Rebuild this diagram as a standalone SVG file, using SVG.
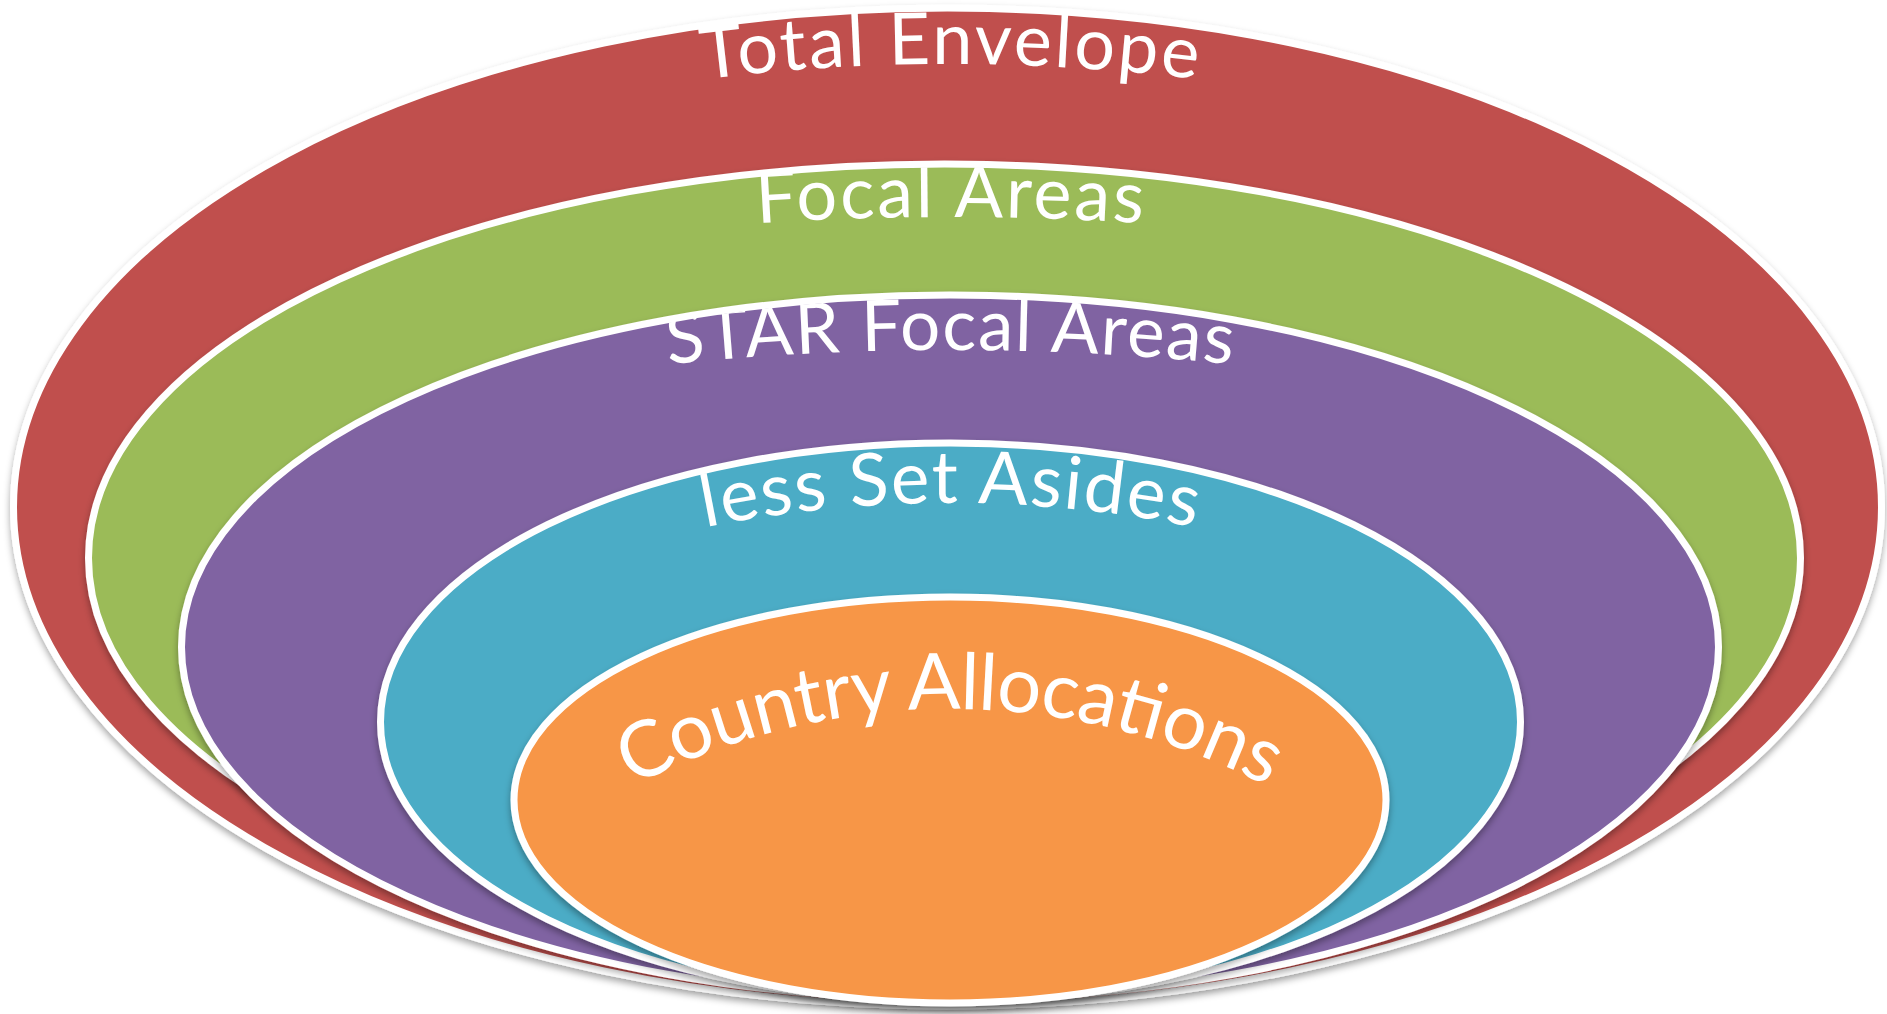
<svg xmlns="http://www.w3.org/2000/svg" width="1887" height="1014" viewBox="0 0 1887 1014">
  <style>
    .ring { stroke: #ffffff; stroke-width: 7; filter: url(#shadow); }
    .label { fill: #ffffff; font-family: "Lato", "Open Sans", "Liberation Sans", sans-serif; font-weight: 400; }
  </style>
  <defs>
    <filter id="shadow" x="-5%" y="-5%" width="110%" height="115%">
      <feDropShadow dx="0" dy="4" stdDeviation="3.5" flood-color="#000000" flood-opacity="0.35"/>
    </filter>
    <clipPath id="clip-green"><ellipse cx="944.5" cy="558" rx="853" ry="391"/></clipPath>
    <clipPath id="clip-purple"><ellipse cx="950" cy="647" rx="765" ry="349"/></clipPath>
    <clipPath id="clip-teal"><ellipse cx="950.5" cy="722" rx="567" ry="276"/></clipPath>
    <clipPath id="clip-orange"><ellipse cx="950" cy="800" rx="433" ry="200"/></clipPath>
    <path id="arc-total" d="M450,127.5 A2000,2000 0 0 1 1450,127.5"/>
    <path id="arc-focal" d="M450,259 A3000,3000 0 0 1 1450,259"/>
    <path id="arc-star" d="M450,395 A2800,2800 0 0 1 1450,395"/>
    <path id="arc-less" d="M450,607.4 A1250,1250 0 0 1 1450,607.4"/>
    <path id="arc-country" d="M400,982.3 A690,690 0 0 1 1500,982.3"/>
  </defs>

  <g id="total-envelope">
    <ellipse class="ring" cx="947.5" cy="507" rx="934" ry="499" fill="#C0504D"/>
    <text class="label" font-size="72"><textPath href="#arc-total" startOffset="50%" text-anchor="middle" textLength="495" lengthAdjust="spacing">Total Envelope</textPath></text>
  </g>

  <g id="focal-areas">
    <ellipse class="ring" cx="944.5" cy="558" rx="856" ry="394" fill="#9BBB59"/>
    <text class="label" font-size="72" clip-path="url(#clip-green)"><textPath href="#arc-focal" startOffset="50%" text-anchor="middle" textLength="386" lengthAdjust="spacing">Focal Areas</textPath></text>
  </g>

  <g id="star-focal-areas">
    <ellipse class="ring" cx="950" cy="647" rx="768.5" ry="352" fill="#8064A2"/>
    <text class="label" font-size="71" clip-path="url(#clip-purple)"><textPath href="#arc-star" startOffset="50%" text-anchor="middle" textLength="565" lengthAdjust="spacing">STAR Focal Areas</textPath></text>
  </g>

  <g id="less-set-asides">
    <ellipse class="ring" cx="950.5" cy="722" rx="570" ry="279" fill="#4BACC6"/>
    <text class="label" font-size="73" clip-path="url(#clip-teal)"><textPath href="#arc-less" startOffset="50%" text-anchor="middle" textLength="493" lengthAdjust="spacing">less Set Asides</textPath></text>
  </g>

  <g id="country-allocations">
    <ellipse class="ring" cx="950" cy="800" rx="436" ry="203" fill="#F79646"/>
    <text class="label" font-size="78" clip-path="url(#clip-orange)"><textPath href="#arc-country" startOffset="50%" text-anchor="middle" textLength="660" lengthAdjust="spacing">Country Allocations</textPath></text>
  </g>

  <g id="connectors"/>
</svg>
